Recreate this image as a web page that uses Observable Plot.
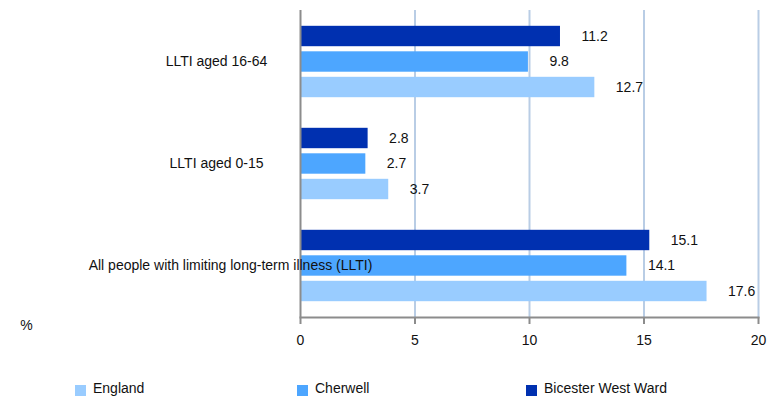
<!DOCTYPE html>
<html>
<head>
<meta charset="utf-8">
<script src="https://cdn.jsdelivr.net/npm/d3@7"></script>
<script src="https://cdn.jsdelivr.net/npm/@observablehq/plot@0.6"></script>
<style>
  html, body { margin: 0; padding: 0; background: #fff; overflow: hidden; }
  body { font-family: "Liberation Sans", Arial, sans-serif; font-size: 14px; color: #111; }
  #chart svg { display: block; }
  #legend { position: relative; height: 25px; width: 769px; }
  .item { position: absolute; top: 9px; display: flex; align-items: flex-start; white-space: nowrap; line-height: 14px; }
  .sw { width: 11px; height: 11px; margin-top: 4px; margin-right: 7px; }
</style>
</head>
<body>
<div id="chart"></div>
<div id="legend"></div>
<script>
const categories = ["LLTI aged 16-64", "LLTI aged 0-15", "All people with limiting long-term illness (LLTI)"];
const series = ["Bicester West Ward", "Cherwell", "England"];
const bicester = [11.2, 2.8, 15.1];
const cherwell = [9.8, 2.7, 14.1];
const england = [12.7, 3.7, 17.6];
const xTicks = [0, 5, 10, 15, 20];
const colors = ["#0030B0", "#4DA6FF", "#99CCFF"];
const legendOrder = ["England", "Cherwell", "Bicester West Ward"];

const valuesBySeries = [bicester, cherwell, england];
const data = categories.flatMap((c, i) => series.map((s, j) => ({
  category: c, series: s, value: valuesBySeries[j][i], key: c + "|" + s
})));
const yDomain = categories.flatMap((c, i) => [
  ...series.map(s => c + "|" + s),
  ...(i < categories.length - 1 ? [c + "|gap"] : [])
]);

const gray = "#8C8C8C";
const plot = Plot.plot({
  width: 769,
  height: 372,
  marginLeft: 300,
  marginRight: 11,
  marginTop: 10,
  marginBottom: 55,
  style: { fontFamily: "Liberation Sans, Arial, sans-serif", fontSize: "14px", color: "#111" },
  x: { domain: [0, 20], axis: null },
  y: { domain: yDomain, paddingInner: 0.2, paddingOuter: 0.62, round: false, axis: null },
  color: { domain: series, range: colors },
  marks: [
    Plot.ruleX(xTicks.filter(t => t > 0), { stroke: "#B9CDE5", strokeWidth: 2 }),
    Plot.barX(data, { y: "key", x: "value", fill: "series", insetRight: -3.5 }),
    Plot.text(data, { y: "key", x: "value", text: d => d.value.toFixed(1), textAnchor: "start", dx: 24.5, fill: "#111" }),
    Plot.ruleX([0], { stroke: gray, strokeWidth: 2 }),
    Plot.frame({ anchor: "bottom", stroke: gray, strokeWidth: 2 }),
    Plot.axisX({ ticks: xTicks, tickSize: 7, tickPadding: 11, stroke: gray, strokeWidth: 2, label: null, fill: "#111", tickFormat: d => d }),
    Plot.text(categories.slice(0, 2), { y: c => c + "|Cherwell", text: d => d, frameAnchor: "left", textAnchor: "middle", dx: -84, fill: "#111" }),
    Plot.text(categories.slice(2), { y: c => c + "|Cherwell", text: d => d, frameAnchor: "left", textAnchor: "middle", dx: -70, fill: "#111" }),
    Plot.text(["%"], { text: d => d, frameAnchor: "bottom-left", textAnchor: "middle", dx: -274, dy: 12, fill: "#111" })
  ]
});
document.getElementById("chart").appendChild(plot);

const legendX = [75, 297, 526];
const legend = document.getElementById("legend");
legendOrder.forEach((s, i) => {
  const item = document.createElement("div");
  item.className = "item";
  item.style.left = legendX[i] + "px";
  const sw = document.createElement("div");
  sw.className = "sw";
  sw.style.background = colors[series.indexOf(s)];
  const label = document.createElement("span");
  label.textContent = s;
  item.appendChild(sw);
  item.appendChild(label);
  legend.appendChild(item);
});
</script>
</body>
</html>
